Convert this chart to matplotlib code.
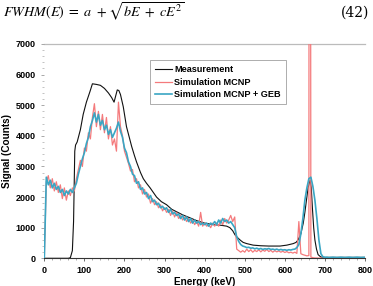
import numpy as np
import matplotlib
matplotlib.use("Agg")
import matplotlib.pyplot as plt
from matplotlib.ticker import MultipleLocator

plt.rcParams['font.family'] = ['Liberation Sans', 'DejaVu Sans']
plt.rcParams['mathtext.fontset'] = 'stix'

# ---------------- data ----------------
# Simulation MCNP + GEB, 5 keV grid from 0 keV
geb_counts = [
    0, 2650, 2400, 2550, 2300, 2450, 2250, 2350, 2150, 2250,          # 0-45
    2050, 2200, 2100, 2250, 2150, 2300, 2450, 2750, 3000, 3250,       # 50-95
    3450, 3750, 3950, 4300, 4500, 4750, 4450, 4700, 4350, 4500,       # 100-145
    4200, 4350, 4050, 4200, 3950, 4100, 4250, 4450, 4150, 3950,       # 150-195
    3600, 3450, 3150, 3000, 2750, 2700, 2450, 2500, 2250, 2300,       # 200-245
    2100, 2150, 1950, 2050, 1850, 1900, 1750, 1800, 1650, 1700,       # 250-295
    1600, 1650, 1500, 1600, 1450, 1500, 1400, 1450, 1300, 1400,       # 300-345
    1250, 1350, 1200, 1300, 1150, 1250, 1150, 1200, 1100, 1150,       # 350-395
    1100, 1150, 1050, 1150, 1100, 1200, 1100, 1250, 1150, 1300,       # 400-445
    1200, 1250, 1150, 1200, 1100, 1000, 700, 550, 450, 400,           # 450-495
    380, 350, 360, 330, 340, 310, 330, 300, 320, 290,                 # 500-545
    310, 300, 320, 290, 300, 280, 300, 270, 290, 270,                 # 550-595
    280, 260, 280, 270, 290, 300, 350, 450, 800, 1300,                # 600-645
    1900, 2300, 2600, 2650, 2350, 1900, 1300, 600, 150, 50,           # 650-695
    30, 35, 25, 30, 35, 30, 25, 30, 35, 30,                           # 700-745
    25, 30, 35, 30, 25, 30, 35, 30, 25, 30,                           # 750-795
    30,                                                                # 800
]
geb_energy = np.arange(0, 5 * len(geb_counts), 5)

# Simulation MCNP (no broadening), 5 keV grid plus the 662 keV photopeak line
mcnp_counts = [
    0, 2500, 2700, 2300, 2600, 2200, 2500, 2150, 2400, 1950,          # 0-45
    2300, 1900, 2200, 2050, 2300, 2200, 2600, 2900, 3200, 3000,       # 50-95
    3600, 3500, 4100, 3900, 4600, 5050, 4300, 4800, 4200, 4700,       # 100-145
    4100, 4600, 3900, 4300, 3700, 3900, 3500, 5100, 4300, 4000,       # 150-195
    3500, 3300, 3100, 2850, 2900, 2500, 2600, 2300, 2400, 2100,       # 200-245
    2250, 2000, 2100, 1800, 1950, 1750, 1850, 1650, 1750, 1550,       # 250-295
    1650, 1500, 1600, 1400, 1550, 1350, 1500, 1300, 1400, 1250,       # 300-345
    1350, 1200, 1300, 1150, 1250, 1100, 1200, 1050, 1500, 1050,       # 350-395
    1150, 1050, 1100, 1000, 1150, 1050, 1150, 1050, 1250, 1100,       # 400-445
    1300, 1150, 1250, 1400, 1200, 1350, 300, 250, 200, 250,           # 450-495
    200, 300, 220, 280, 200, 260, 220, 280, 210, 270,                 # 500-545
    230, 290, 220, 260, 200, 250, 210, 240, 200, 230,                 # 550-595
    190, 220, 180, 200, 170, 200, 160, 1200, 150, 120,                # 600-645
    100, 80, 90, 40, 20, 10, 10, 5, 5, 5,                             # 650-695
    5, 5, 5, 5, 5, 5, 5, 5, 5, 5,                                     # 700-745
    5, 5, 5, 5, 5, 5, 5, 5, 5, 5,                                     # 750-795
    5,                                                                 # 800
]
mcnp_energy = list(np.arange(0, 5 * len(mcnp_counts), 5))
peak_energy = [661, 662, 663]
peak_counts = [30000, 30000, 30000]

# Measurement (smooth)
meas_energy = [0, 60, 65, 70, 73, 76, 78, 82, 90, 97, 105, 114, 120, 130, 140,
               150, 160, 168, 174, 178, 182, 186, 190, 197, 205, 212, 218, 225,
               230, 240, 247, 255, 264, 272, 280, 292, 305, 318, 330, 345, 362,
               380, 400, 422, 440, 455, 463, 470, 476, 484, 490, 496, 505, 521,
               540, 560, 588, 605, 621, 628, 633, 640, 646, 650, 654, 658, 663,
               666, 669, 672, 675, 679, 683, 690, 700, 750, 800]
meas_counts = [0, 0, 20, 250, 1200, 3500, 3700, 3800, 4200, 4700, 5100, 5450,
               5700, 5680, 5650, 5550, 5400, 5250, 5100, 5300, 5500, 5480, 5350,
               4950, 4300, 3950, 3650, 3350, 3150, 2800, 2600, 2450, 2300, 2150,
               2000, 1850, 1750, 1600, 1520, 1420, 1330, 1230, 1150, 1100, 1080,
               1050, 1000, 900, 760, 650, 580, 520, 480, 430, 410, 400, 400, 430,
               480, 520, 600, 800, 1150, 1500, 1900, 2300, 2550, 2300, 1600, 1000,
               600, 300, 120, 40, 30, 30, 30]

series_names = ["Measurement", "Simulation MCNP", "Simulation MCNP + GEB"]
x_ticks = [0, 100, 200, 300, 400, 500, 600, 700, 800]
y_ticks = [0, 1000, 2000, 3000, 4000, 5000, 6000, 7000]

# merge the photopeak line into the MCNP series
m_e = mcnp_energy + peak_energy
m_c = list(mcnp_counts) + peak_counts
order = np.argsort(m_e, kind="stable")
m_e = np.array(m_e)[order]
m_c = np.array(m_c)[order]

# ---------------- figure ----------------
W, H = 373, 286
fig = plt.figure(figsize=(W / 100, H / 100), dpi=100)
ax = fig.add_axes([44.3 / W, 1 - 258.3 / H, 320.7 / W, 214.3 / H])

c_black = "#111111"
c_red = "#f47a7c"
c_cyan = "#3aa6c4"

ax.plot(meas_energy, meas_counts, color=c_black, lw=0.8, label=series_names[0], zorder=3)
ax.plot(m_e, m_c, color=c_red, lw=0.9, label=series_names[1], zorder=4)
ax.plot(geb_energy, geb_counts, color=c_cyan, lw=1.2, label=series_names[2], zorder=5)

ax.set_xlim(0, 800)
ax.set_ylim(0, 7000)
ax.set_xticks(x_ticks)
ax.set_yticks(y_ticks)
ax.xaxis.set_minor_locator(MultipleLocator(20))
ax.yaxis.set_minor_locator(MultipleLocator(200))

for s in ["top", "right", "left"]:
    ax.spines[s].set_visible(False)
ax.spines["bottom"].set_color("#333333")
ax.spines["bottom"].set_linewidth(0.8)
ax.axhline(7000, color="#bbbbbb", lw=0.9, zorder=1, clip_on=False)

ax.tick_params(axis="x", which="major", length=2.5, width=0.6, color="#555555",
               labelsize=6.5, pad=3)
ax.tick_params(axis="x", which="minor", length=1.5, width=0.5, color="#888888")
ax.tick_params(axis="y", which="major", length=2, width=0.6, color="#999999",
               labelsize=6.5, pad=4)
ax.tick_params(axis="y", which="minor", length=1.5, width=0.5, color="#aaaaaa")
for lab in ax.get_xticklabels() + ax.get_yticklabels():
    lab.set_fontweight("bold")

ax.set_xlabel("Energy (keV)", fontsize=7.2, fontweight="bold", labelpad=1.5)
ax.set_ylabel("Signal (Counts)", fontsize=7.2, fontweight="bold", labelpad=3)

leg = ax.legend(loc="upper left", bbox_to_anchor=(0.33, 0.925), fontsize=6.6,
                frameon=True, fancybox=False, edgecolor="#888888",
                handlelength=1.8, handletextpad=0.3, borderpad=0.55,
                labelspacing=0.4, borderaxespad=0)
leg.get_frame().set_linewidth(0.6)
for t in leg.get_texts():
    t.set_fontweight("bold")

fig.text(3 / W, 1 - 17 / H, r"$FWHM(E)\ =\ a\ +\sqrt{bE\ +\ cE^2}$", fontsize=10.2,
         ha="left", va="baseline")
fig.text(369 / W, 1 - 17 / H, "(42)", fontsize=10, ha="right", va="baseline",
         family="DejaVu Serif")

fig.savefig("out.png", dpi=100)
